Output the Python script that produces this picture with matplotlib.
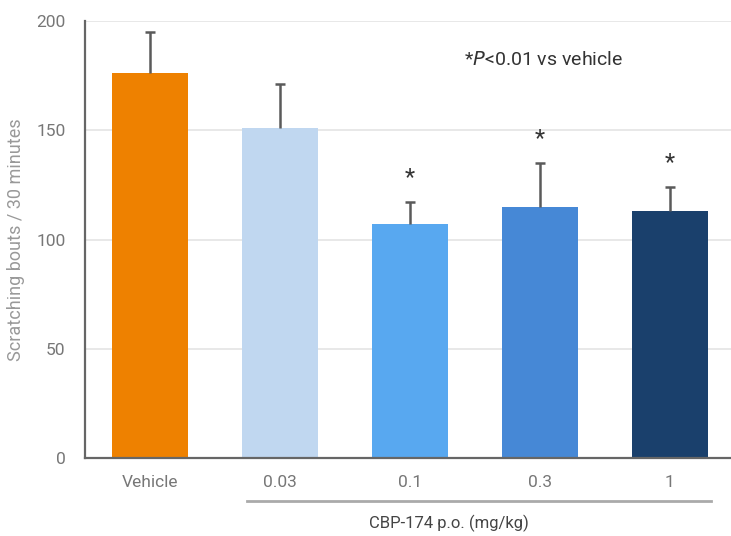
import matplotlib
matplotlib.use("Agg")
from matplotlib import pyplot as plt
from matplotlib import transforms
import numpy as np

plt.rcParams['font.family'] = ['Roboto', 'DejaVu Sans']

groups = ["Vehicle", "0.03", "0.1", "0.3", "1"]
means = [176, 151, 107, 115, 113]
errors = [19, 20, 10, 20, 11]
significant = [False, False, True, True, True]
colors = ["#EE8100", "#C0D7F0", "#58A8F0", "#4688D6", "#1A406C"]

fig = plt.figure(figsize=(7.31, 5.36), dpi=100)
ax = fig.add_axes([0.1163, 0.1455, 0.889, 0.8153])

x = np.arange(len(groups))
ax.bar(x, means, width=0.585, color=colors, zorder=2)
eb = ax.errorbar(x, means, yerr=[np.zeros(len(errors)), errors], fmt="none",
                 ecolor="#5a5a5a", elinewidth=1.8, capsize=3.5, capthick=1.8, zorder=3)
# only the upper cap is shown
eb[1][0].set_visible(False)

for xi, m, e, s in zip(x, means, errors, significant):
    if s:
        ax.text(xi, m + e + 6, "*", ha="center", va="bottom", fontsize=17, color="#333333")

ax.text(0.705, 0.91, r"*$\mathit{P}$<0.01 vs vehicle", transform=ax.transAxes,
        ha="center", va="center", fontsize=14, color="#333333")

ax.set_xlim(-0.5, 4.5)
ax.set_ylim(0, 200)
ax.set_yticks([0, 50, 100, 150, 200])
ax.set_xticks(x)
ax.set_xticklabels(groups)
ax.tick_params(axis="both", length=0, labelsize=12.5, colors="#777777", pad=12)
ax.tick_params(axis="y", pad=14)
ax.yaxis.grid(True, color="#e4e4e4", linewidth=1.2, zorder=0)
ax.set_axisbelow(True)
for side in ["top", "right"]:
    ax.spines[side].set_visible(False)
for side in ["left", "bottom"]:
    ax.spines[side].set_color("#666666")
    ax.spines[side].set_linewidth(1.6)

ax.set_ylabel("Scratching bouts / 30 minutes", fontsize=13, color="#999999", labelpad=8)

# dose bracket under the CBP-174 groups
trans = transforms.blended_transform_factory(ax.transData, ax.transAxes)
ax.plot([x[1] - 0.25, x[4] + 0.32], [-0.098, -0.098], transform=trans,
        color="#aaaaaa", linewidth=2, clip_on=False)
ax.text((x[1] + x[4]) / 2 - 0.2, -0.15, "CBP-174 p.o. (mg/kg)", transform=trans,
        ha="center", va="center", fontsize=12, color="#444444")

plt.savefig("out.png", dpi=100)
